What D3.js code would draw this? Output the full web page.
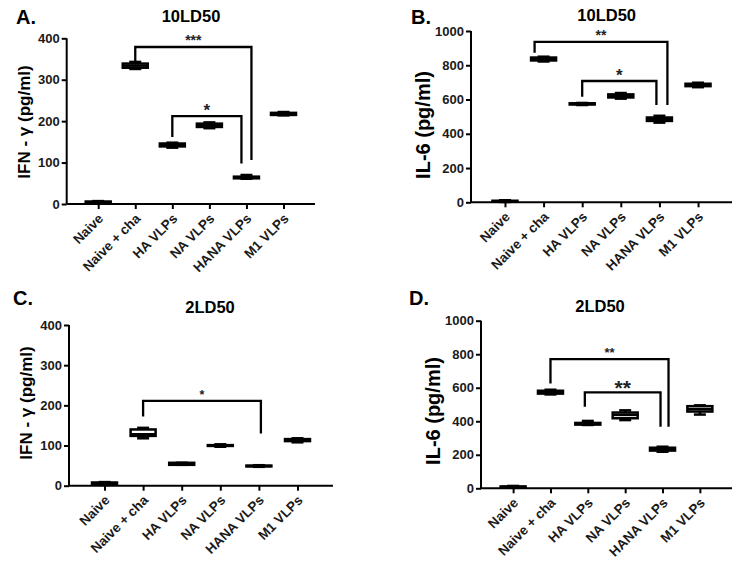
<!DOCTYPE html>
<html>
<head>
<meta charset="utf-8">
<script src="https://cdn.jsdelivr.net/npm/d3@7"></script>
<style>
  html, body { margin: 0; padding: 0; background: #fff; }
  svg { display: block; font-family: "Liberation Sans", Arial, sans-serif; font-weight: bold; }
</style>
</head>
<body>
<svg id="chart" width="739" height="563"></svg>
<script>
// ---------------- DATA ----------------
const categories = ["Naive", "Naive + cha", "HA VLPs", "NA VLPs", "HANA VLPs", "M1 VLPs"];
const ifnTicks = [0, 100, 200, 300, 400];
const il6Ticks = [0, 200, 400, 600, 800, 1000];
// box stats per group: [min, q1, median, q3, max]
const ifn10LD50 = [[1, 2, 4, 6, 7], [326, 329, 334, 339, 343], [136, 139, 142, 146, 148], [183, 186, 190, 194, 197], [61, 62, 64, 66, 70], [214, 215, 217, 220, 222]];
const il6_10LD50 = [[2, 4, 6, 9, 12], [822, 828, 835, 845, 850], [568, 571, 574, 578, 580], [605, 612, 620, 630, 638], [465, 475, 485, 495, 505], [672, 678, 685, 692, 698]];
const ifn2LD50 = [[2, 4, 6, 8, 9], [118, 124, 128, 140, 144], [52, 52, 55, 57, 57], [97, 99, 100, 101, 103], [47, 48, 49, 50, 51], [108, 111, 114, 116, 118]];
const il6_2LD50 = [[3, 5, 8, 11, 14], [560, 565, 574, 582, 588], [378, 380, 385, 390, 402], [407, 418, 438, 452, 465], [218, 225, 232, 242, 248], [440, 458, 472, 490, 495]];
// significance brackets: from group, to group, label, bracket level, left leg end, right leg end
const sigA = [{ from: 1, to: 4, label: "***", level: 379, leftEnd: 343, rightEnd: 106 },
              { from: 2, to: 4, label: "*", level: 212, leftEnd: 162, rightEnd: 98 }];
const sigB = [{ from: 1, to: 4, label: "**", level: 937, leftEnd: 873, rightEnd: 568 },
              { from: 2, to: 4, label: "*", level: 708, leftEnd: 616, rightEnd: 568 }];
const sigC = [{ from: 1, to: 4, label: "*", level: 211, leftEnd: 172, rightEnd: 130 }];
const sigD = [{ from: 1, to: 4, label: "**", level: 771, leftEnd: 626, rightEnd: 367 },
              { from: 2, to: 4, label: "**", level: 572, leftEnd: 487, rightEnd: 367 }];

// ---------------- LAYOUT / STYLE ----------------
const panels = [
  { letter: "A.", title: "10LD50", ylabel: "IFN - γ (pg/ml)", data: ifn10LD50, ticks: ifnTicks, sigs: sigA,
    sigStyle: [{ dl: 0, dr: 5, fs: 14 }, { dl: 0, dr: -5, fs: 17 }],
    x0: 66.7, x1: 315, yT: 38.3, yB: 204, pad: 0.85,
    letterXY: [16, 24], titleXY: [191, 21.5], ylabXY: [29.5, 122], ylabFs: 17 },
  { letter: "B.", title: "10LD50", ylabel: "IL-6 (pg/ml)", data: il6_10LD50, ticks: il6Ticks, sigs: sigB,
    sigStyle: [{ dl: -9, dr: 8, fs: 14 }, { dl: 0, dr: -3, fs: 17 }],
    x0: 471, x1: 732, yT: 31, yB: 202.3, pad: 0.88,
    letterXY: [411, 24], titleXY: [606.7, 21], ylabXY: [430, 125], ylabFs: 20 },
  { letter: "C.", title: "2LD50", ylabel: "IFN - γ (pg/ml)", data: ifn2LD50, ticks: ifnTicks, sigs: sigC,
    sigStyle: [{ dl: 0, dr: 2, fs: 12.5 }],
    x0: 69, x1: 333, yT: 325, yB: 485.7, pad: 0.92,
    letterXY: [13, 305], titleXY: [210, 312.5], ylabXY: [32, 403], ylabFs: 17 },
  { letter: "D.", title: "2LD50", ylabel: "IL-6 (pg/ml)", data: il6_2LD50, ticks: il6Ticks, sigs: sigD,
    sigStyle: [{ dl: 0, dr: 6, fs: 13 }, { dl: -3, dr: -2, fs: 21 }],
    x0: 481, x1: 732, yT: 320.7, yB: 488.3, pad: 0.86,
    letterXY: [409, 305], titleXY: [600, 311.5], ylabXY: [440, 411], ylabFs: 20 }
];

const svg = d3.select("#chart");
const BW = 25, CW = 12, SW = 2.5;

panels.forEach(p => {
  const g = svg.append("g");
  const yMax = p.ticks[p.ticks.length - 1];
  const x = d3.scalePoint().domain(categories).range([p.x0, p.x1]).padding(p.pad);
  const y = d3.scaleLinear().domain([0, yMax]).range([p.yB, p.yT]);

  // y axis
  const ya = g.append("g").attr("transform", `translate(${p.x0},0)`)
    .call(d3.axisLeft(y).tickValues(p.ticks).tickFormat(d3.format("d")).tickSize(5).tickSizeOuter(0).tickPadding(2));
  // x axis
  const xa = g.append("g").attr("transform", `translate(0,${p.yB})`)
    .call(d3.axisBottom(x).tickSize(5).tickSizeOuter(0));
  [ya, xa].forEach(a => {
    a.attr("font-size", null).attr("font-family", null);
    a.select(".domain").attr("stroke", "#000").attr("stroke-width", 2);
    a.selectAll(".tick line").attr("stroke", "#000").attr("stroke-width", 2);
    a.selectAll("text").attr("fill", "#1a1a1a").style("font-family", "Liberation Sans, Arial, sans-serif").style("font-weight", "bold");
  });
  ya.selectAll("text").style("font-size", "13px");
  xa.selectAll("text").style("font-size", "13.5px");
  ya.select(".domain").attr("d", `M0,${p.yB}V${p.yT}`);
  xa.select(".domain").attr("d", `M${p.x0},0H${p.x1}`);
  xa.selectAll(".tick text")
    .attr("x", -7).attr("y", 10).attr("dy", "0.35em")
    .attr("transform", "rotate(-45)")
    .style("text-anchor", "end");

  // boxes
  const boxes = g.append("g").selectAll("g").data(p.data).join("g")
    .attr("transform", (d, i) => `translate(${x(categories[i])},0)`);
  boxes.append("line").attr("x1", 0).attr("x2", 0).attr("y1", d => y(d[4])).attr("y2", d => y(d[0]))
    .attr("stroke", "#000").attr("stroke-width", SW);
  boxes.append("line").attr("x1", -CW / 2).attr("x2", CW / 2).attr("y1", d => y(d[4])).attr("y2", d => y(d[4]))
    .attr("stroke", "#000").attr("stroke-width", SW);
  boxes.append("line").attr("x1", -CW / 2).attr("x2", CW / 2).attr("y1", d => y(d[0])).attr("y2", d => y(d[0]))
    .attr("stroke", "#000").attr("stroke-width", SW);
  boxes.append("rect").attr("x", -BW / 2).attr("width", BW)
    .attr("y", d => y(d[3])).attr("height", d => Math.max(0.01, y(d[1]) - y(d[3])))
    .attr("fill", "#fff").attr("stroke", "#000").attr("stroke-width", SW);
  boxes.append("line").attr("x1", -BW / 2).attr("x2", BW / 2).attr("y1", d => y(d[2])).attr("y2", d => y(d[2]))
    .attr("stroke", "#000").attr("stroke-width", SW);

  // significance brackets
  p.sigs.forEach((s, k) => {
    const st = p.sigStyle[k];
    const xl = x(categories[s.from]) + st.dl, xr = x(categories[s.to]) + st.dr;
    const yl = y(s.level);
    g.append("path")
      .attr("d", `M${xl},${y(s.leftEnd)}V${yl}H${xr}V${y(s.rightEnd)}`)
      .attr("fill", "none").attr("stroke", "#000").attr("stroke-width", 2.3);
    g.append("text").attr("x", (xl + xr) / 2).attr("y", yl - 9.5 + 0.57 * st.fs)
      .attr("text-anchor", "middle").style("font-size", st.fs + "px")
      .attr("fill", "#222")
      .text(s.label);
  });

  // texts
  g.append("text").attr("x", p.letterXY[0]).attr("y", p.letterXY[1]).style("font-size", "20px").text(p.letter);
  g.append("text").attr("x", p.titleXY[0]).attr("y", p.titleXY[1]).attr("text-anchor", "middle")
    .style("font-size", "16.5px").text(p.title);
  g.append("text").attr("transform", `translate(${p.ylabXY[0]},${p.ylabXY[1]}) rotate(-90)`)
    .attr("text-anchor", "middle").style("font-size", p.ylabFs + "px").text(p.ylabel);
});
</script>
</body>
</html>
